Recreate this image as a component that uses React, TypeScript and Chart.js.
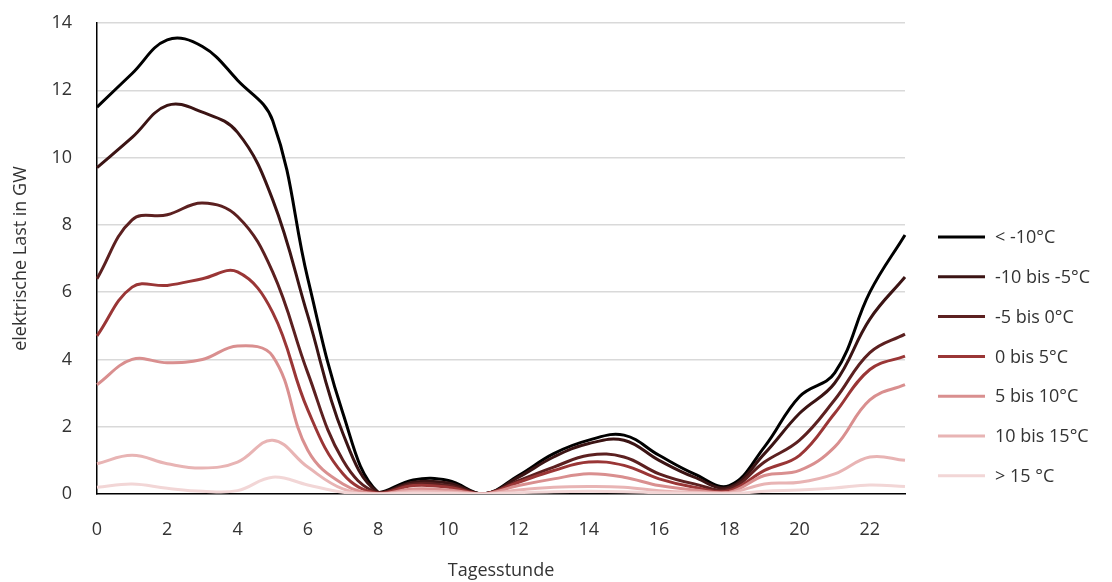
import React, { useEffect, useRef } from "react";
import { Chart, registerables } from "chart.js";

Chart.register(...registerables);

const hours = ["0","1","2","3","4","5","6","7","8","9","10","11","12","13","14","15","16","17","18","19","20","21","22","23"];

const seriesNames = ["< -10°C", "-10 bis -5°C", "-5 bis 0°C", "0 bis 5°C", "5 bis 10°C", "10 bis 15°C", "> 15 °C"];
const seriesColors = ["#000000", "#3b1414", "#5c2020", "#9a3636", "#d98f8f", "#e8b4b4", "#f2d6d6"];

const s1 = [11.5, 12.5, 13.5, 13.3, 12.3, 11.1, 6.4, 2.4, 0.05, 0.42, 0.4, 0.0, 0.55, 1.2, 1.6, 1.75, 1.15, 0.6, 0.25, 1.4, 2.9, 3.6, 6.0, 7.7];
const s2 = [9.7, 10.6, 11.55, 11.35, 10.75, 8.75, 5.3, 1.8, 0.05, 0.35, 0.33, 0.0, 0.5, 1.1, 1.5, 1.6, 1.0, 0.5, 0.2, 1.2, 2.4, 3.3, 5.2, 6.45];
const s3 = [6.4, 8.15, 8.3, 8.65, 8.25, 6.6, 3.6, 1.0, 0.03, 0.3, 0.25, 0.0, 0.4, 0.8, 1.15, 1.1, 0.6, 0.3, 0.15, 0.95, 1.6, 2.8, 4.2, 4.75];
const s4 = [4.7, 6.15, 6.2, 6.4, 6.6, 5.4, 2.5, 0.6, 0.02, 0.25, 0.2, 0.0, 0.35, 0.7, 0.95, 0.85, 0.45, 0.2, 0.1, 0.7, 1.15, 2.4, 3.7, 4.1];
const s5 = [3.25, 4.0, 3.9, 4.0, 4.4, 4.1, 1.3, 0.3, 0.01, 0.15, 0.12, 0.0, 0.25, 0.45, 0.6, 0.5, 0.25, 0.12, 0.05, 0.55, 0.7, 1.4, 2.8, 3.25];
const s6 = [0.9, 1.15, 0.9, 0.77, 0.95, 1.6, 0.8, 0.15, 0.0, 0.08, 0.06, 0.0, 0.12, 0.2, 0.22, 0.2, 0.1, 0.05, 0.03, 0.3, 0.35, 0.6, 1.1, 1.0];
const s7 = [0.2, 0.3, 0.17, 0.08, 0.1, 0.5, 0.27, 0.05, 0.0, 0.03, 0.02, 0.0, 0.04, 0.07, 0.08, 0.07, 0.04, 0.02, 0.01, 0.08, 0.12, 0.18, 0.27, 0.22];

const seriesValues = [s1, s2, s3, s4, s5, s6, s7];

const yTicks = [0, 2, 4, 6, 8, 10, 12, 14];

const FONT = "'Open Sans', 'Noto Sans', sans-serif";
const TEXT = "#333333";
const FS = 18;

const legendPlugin = {
  id: "customLegend",
  afterDraw(chart: any) {
    const ctx = chart.ctx;
    const area = chart.chartArea;
    const x0 = area.right + 33;
    const lineLen = 47;
    const startY = 237;
    const step = 39.8;
    ctx.save();
    ctx.font = `${FS}px ${FONT}`;
    ctx.textBaseline = "middle";
    ctx.textAlign = "left";
    chart.data.datasets.forEach((ds: any, i: number) => {
      const y = startY + i * step;
      ctx.strokeStyle = ds.borderColor;
      ctx.lineWidth = ds.borderWidth;
      ctx.beginPath();
      ctx.moveTo(x0, y);
      ctx.lineTo(x0 + lineLen, y);
      ctx.stroke();
      ctx.fillStyle = TEXT;
      ctx.fillText(ds.label, x0 + lineLen + 10, y + 1);
    });
    ctx.restore();
  },
};

export default function App() {
  const canvasRef = useRef<HTMLCanvasElement | null>(null);

  useEffect(() => {
    if (!canvasRef.current) return;
    const chart = new Chart(canvasRef.current, {
      type: "line",
      data: {
        labels: hours,
        datasets: seriesValues.map((vals, i) => ({
          label: seriesNames[i],
          data: vals,
          borderColor: seriesColors[i],
          backgroundColor: seriesColors[i],
          borderWidth: 3,
          pointRadius: 0,
          tension: 0.4,
          fill: false,
          order: 7 - i,
        })),
      },
      options: {
        animation: false,
        responsive: true,
        maintainAspectRatio: false,
        layout: { padding: { top: 23, right: 207, left: 0, bottom: 0 } },
        plugins: {
          legend: { display: false },
          tooltip: { enabled: false },
        },
        scales: {
          x: {
            type: "category",
            offset: false,
            grid: { display: false, drawTicks: false },
            border: { display: true, color: "#000000", width: 1.5 },
            ticks: {
              autoSkip: false,
              maxRotation: 0,
              padding: 25,
              color: TEXT,
              font: { family: FONT, size: FS },
              callback: (v: any, i: number) => (i % 2 === 0 ? hours[i] : ""),
            },
            title: {
              display: true,
              text: "Tagesstunde",
              color: TEXT,
              font: { family: FONT, size: FS },
              padding: { top: 8, bottom: 0 },
            },
            afterFit: (scale: any) => {
              scale.height = 88;
            },
          },
          y: {
            min: 0,
            max: 14,
            afterBuildTicks: (scale: any) => {
              scale.ticks = yTicks.map((v) => ({ value: v }));
            },
            grid: {
              drawTicks: true,
              tickLength: 25,
              tickColor: "rgba(0,0,0,0)",
              color: (c: any) => (c.tick && c.tick.value === 0 ? "rgba(0,0,0,0)" : "#d9d9d9"),
              lineWidth: 1.5,
            },
            border: { display: true, color: "#000000", width: 1.5 },
            ticks: {
              padding: 0,
              color: TEXT,
              font: { family: FONT, size: FS },
            },
            title: {
              display: true,
              text: "elektrische Last in GW",
              color: TEXT,
              font: { family: FONT, size: FS },
              padding: { top: 10, bottom: 0 },
            },
            afterFit: (scale: any) => {
              scale.width = 97;
            },
          },
        },
      },
      plugins: [legendPlugin],
    });
    return () => chart.destroy();
  }, []);

  return (
    <div style={{ position: "absolute", left: 0, top: 0, width: 1112, height: 582, background: "#ffffff" }}>
      <canvas ref={canvasRef} />
    </div>
  );
}
